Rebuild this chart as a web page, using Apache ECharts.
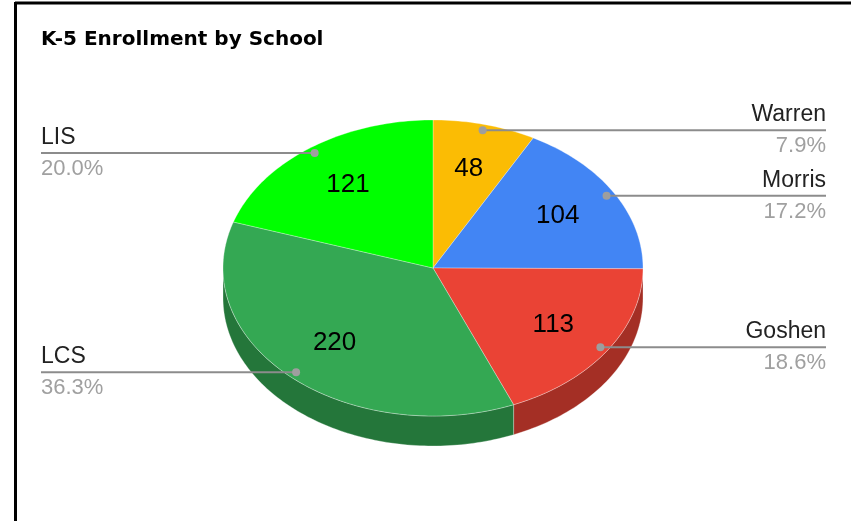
<!DOCTYPE html>
<html>
<head>
<meta charset="utf-8">
<script src="https://cdn.jsdelivr.net/npm/echarts@6/dist/echarts.min.js"></script>
<style>
html,body{margin:0;padding:0;background:#fff;}
#chart{width:851px;height:521px;}
</style>
</head>
<body>
<div id="chart"></div>
<script>
const title = 'K-5 Enrollment by School';
const categories = ['Warren', 'Morris', 'Goshen', 'LCS', 'LIS'];
const values = [48, 104, 113, 220, 121];

const palette = ['#fbbc04', '#4285f4', '#ea4335', '#34a853', '#00ff00'];
const sidePalette = ['#b08403', '#2e5dab', '#a42f25', '#24763a', '#00b300'];

// layout
const CX = 433, CY = 268, RX = 210, RY = 148, DEPTH = 30;
const LEFT_X = 41, RIGHT_X = 826;

const total = values.reduce((a, b) => a + b, 0);
const starts = [];
let acc = 0;
values.forEach(v => { starts.push(acc / total * Math.PI * 2); acc += v; });
const ends = values.map((v, i) => starts[i] + v / total * Math.PI * 2);

function pt(th, r, dy) {
  return [CX + RX * r * Math.sin(th), CY - RY * r * Math.cos(th) + (dy || 0)];
}
function arc(a1, a2, r, dy) {
  const pts = [];
  const n = Math.max(2, Math.ceil((a2 - a1) / 0.02));
  for (let k = 0; k <= n; k++) pts.push(pt(a1 + (a2 - a1) * k / n, r, dy));
  return pts;
}

const seriesData = categories.map((c, i) => ({ name: c, value: values[i] }));

const chart = echarts.init(document.getElementById('chart'), null, { renderer: 'canvas' });
chart.setOption({
  animation: false,
  backgroundColor: '#fff',
  title: {
    text: title, left: 36, top: 25,
    textStyle: { fontFamily: 'DejaVu Sans', fontWeight: 'bold', fontSize: 20, color: '#000' }
  },
  graphic: [
    { type: 'line', shape: { x1: 15, y1: 3, x2: 851, y2: 3 }, style: { stroke: '#000', lineWidth: 3 }, z: 100 },
    { type: 'line', shape: { x1: 15.5, y1: 2, x2: 15.5, y2: 521 }, style: { stroke: '#000', lineWidth: 3 }, z: 100 }
  ],
  series: [
    {
      type: 'custom', coordinateSystem: 'none', z: 1,
      data: seriesData,
      renderItem: function (params, api) {
        const i = params.dataIndex;
        const a1 = Math.max(starts[i], Math.PI / 2), a2 = Math.min(ends[i], Math.PI * 1.5);
        if (a2 <= a1) return null;
        const top = arc(a1, a2, 1, 0);
        const bot = arc(a1, a2, 1, DEPTH).reverse();
        return {
          type: 'polygon', shape: { points: top.concat(bot) },
          style: { fill: sidePalette[i], stroke: 'rgba(255,255,255,0.5)', lineWidth: 0.6 }
        };
      }
    },
    {
      type: 'custom', coordinateSystem: 'none', z: 2,
      data: seriesData,
      renderItem: function (params, api) {
        const i = params.dataIndex;
        const pts = [[CX, CY]].concat(arc(starts[i], ends[i], 1, 0));
        const mid = (starts[i] + ends[i]) / 2;
        const lp = pt(mid, 0.69, 0);
        return {
          type: 'group', children: [
            { type: 'polygon', shape: { points: pts },
              style: { fill: palette[i], stroke: 'rgba(255,255,255,0.5)', lineWidth: 0.6 } },
            { type: 'text', x: lp[0], y: lp[1], z2: 10,
              style: { text: String(values[i]), fontSize: 26, fontFamily: 'Liberation Sans, Arial',
                fill: '#000', align: 'center', verticalAlign: 'middle' } }
          ]
        };
      }
    },
    {
      type: 'custom', coordinateSystem: 'none', z: 5,
      data: seriesData,
      renderItem: function (params, api) {
        const i = params.dataIndex;
        const mid = (starts[i] + ends[i]) / 2;
        const d = pt(mid, 0.96, 0);
        const right = Math.sin(mid) >= 0;
        const ex = right ? RIGHT_X : LEFT_X;
        const pct = (values[i] / total * 100).toFixed(1) + '%';
        const align = right ? 'right' : 'left';
        return {
          type: 'group', children: [
            { type: 'line', shape: { x1: d[0], y1: d[1], x2: ex, y2: d[1] },
              style: { stroke: '#8c8c8c', lineWidth: 2 } },
            { type: 'circle', shape: { cx: d[0], cy: d[1], r: 4 }, style: { fill: '#9e9e9e' } },
            { type: 'text', x: ex, y: d[1] - 4,
              style: { text: categories[i], fontSize: 23, fontFamily: 'Liberation Sans, Arial',
                fill: '#222', align: align, verticalAlign: 'bottom' } },
            { type: 'text', x: ex, y: d[1] + 5,
              style: { text: pct, fontSize: 22, fontFamily: 'Liberation Sans, Arial',
                fill: '#a0a0a0', align: align, verticalAlign: 'top' } }
          ]
        };
      }
    }
  ]
});
</script>
</body>
</html>
